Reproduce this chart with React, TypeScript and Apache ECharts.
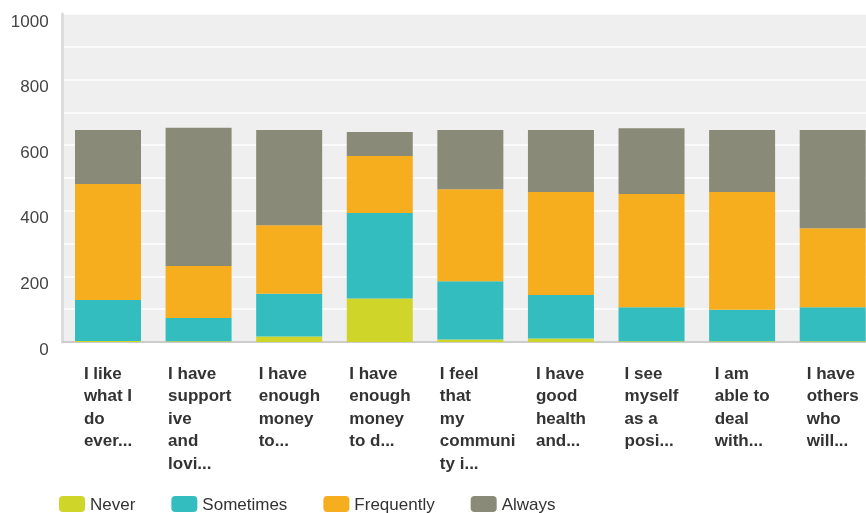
import React, { useEffect, useRef } from "react";
import * as echarts from "echarts";

const categories = [
  "I like\nwhat I\ndo\never...",
  "I have\nsupport\nive\nand\nlovi...",
  "I have\nenough\nmoney\nto...",
  "I have\nenough\nmoney\nto d...",
  "I feel\nthat\nmy\ncommuni\nty i...",
  "I have\ngood\nhealth\nand...",
  "I see\nmyself\nas a\nposi...",
  "I am\nable to\ndeal\nwith...",
  "I have\nothers\nwho\nwill...",
];

const never = [3, 2, 17, 133, 8, 11, 2, 2, 2];
const sometimes = [125, 71, 130, 260, 177, 132, 104, 96, 104];
const frequently = [354, 159, 209, 174, 281, 314, 345, 359, 241];
const always = [164, 421, 290, 73, 180, 189, 201, 189, 299];

const seriesNames = ["Never", "Sometimes", "Frequently", "Always"];
const seriesColors = ["#d0d52a", "#33bdbe", "#f7ae1e", "#8a8a79"];
const yTicks = [0, 200, 400, 600, 800, 1000];

const FONT = "Liberation Sans, Arial, sans-serif";
const labelFont = {
  fontSize: 17,
  fontWeight: "bold",
  lineHeight: 22.5,
  color: "#333",
  align: "left",
  fontFamily: FONT,
};

export default function App() {
  const ref = useRef<HTMLDivElement>(null);

  useEffect(() => {
    if (!ref.current) return;
    const chart = echarts.init(ref.current, null, { renderer: "svg" });
    const values = [never, sometimes, frequently, always];
    const ctx = document.createElement("canvas").getContext("2d");
    const measure = (s: string) => {
      if (!ctx) return 0;
      ctx.font = `bold 17px ${FONT}`;
      return ctx.measureText(s).width;
    };
    chart.setOption({
      animation: false,
      textStyle: { fontFamily: FONT },
      grid: {
        left: 62.7,
        right: 0,
        top: 14,
        bottom: 171,
        show: true,
        backgroundColor: "#efefef",
        borderWidth: 0,
        containLabel: false,
      },
      legend: {
        left: 59,
        top: 495.5,
        padding: 0,
        itemWidth: 26,
        itemHeight: 16,
        itemGap: 36,
        icon: "roundRect",
        data: seriesNames,
        textStyle: { fontSize: 17, color: "#333", fontFamily: FONT },
      },
      xAxis: {
        type: "category",
        data: categories,
        axisTick: { show: false },
        axisLine: { show: true, lineStyle: { color: "#cccccc", width: 2 } },
        axisLabel: {
          interval: 0,
          margin: 20,
          formatter: (v: string) => {
            const widest = Math.max(...v.split("\n").map(measure));
            return widest > 61 ? `{w|${v}}` : `{a|${v}}`;
          },
          rich: {
            a: { ...labelFont },
            w: { ...labelFont, width: 61 },
          },
        },
      },
      yAxis: {
        type: "value",
        min: 0,
        max: 1000,
        interval: 100,
        axisTick: { show: false },
        axisLine: { show: true, lineStyle: { color: "#dcdcdc", width: 3 } },
        splitLine: { show: true, lineStyle: { color: "#ffffff", width: 1.5 } },
        axisLabel: {
          margin: 14,
          fontSize: 17,
          color: "#444",
          verticalAlign: "top",
          lineHeight: 14,
          formatter: (v: number) => (yTicks.includes(v) ? String(v) : ""),
        },
      },
      series: seriesNames.map((name, i) => ({
        name,
        type: "bar",
        stack: "total",
        barWidth: 66,
        itemStyle: { color: seriesColors[i] },
        data: values[i],
      })),
    });
    return () => chart.dispose();
  }, []);

  return (
    <div
      style={{
        position: "fixed",
        left: 0,
        top: 0,
        width: 866,
        height: 513,
        overflow: "hidden",
      }}
    >
      <div ref={ref} style={{ width: 878.3, height: 513 }} />
    </div>
  );
}
